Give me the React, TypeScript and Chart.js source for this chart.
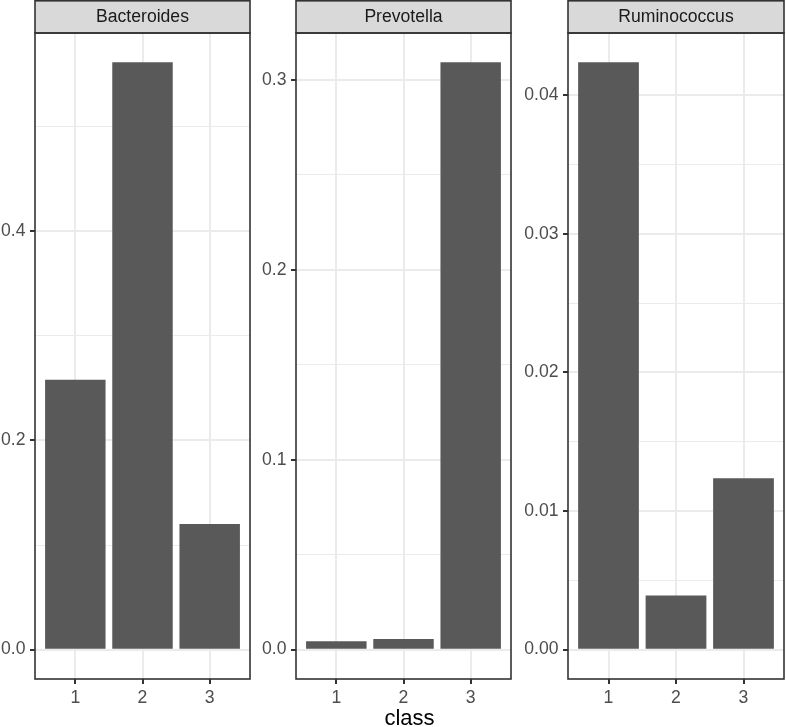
import React, { useEffect, useRef } from 'react';
import { Chart, registerables } from 'chart.js';

Chart.register(...registerables);

// ---- data ----
const facetNames = ['Bacteroides', 'Prevotella', 'Ruminococcus'];
const classes = [1, 2, 3];
const bacteroidesValues = [0.258, 0.5613, 0.12];
const prevotellaValues = [0.0044, 0.0056, 0.3093];
const ruminococcusValues = [0.04236, 0.00391, 0.01237];
const bacteroidesTicks = [0, 0.2, 0.4];
const prevotellaTicks = [0, 0.1, 0.2, 0.3];
const ruminococcusTicks = [0, 0.01, 0.02, 0.03, 0.04];
const tickDecimals = [1, 1, 2];
const xTitle = 'class';

const seriesValues = [bacteroidesValues, prevotellaValues, ruminococcusValues];
const seriesTicks = [bacteroidesTicks, prevotellaTicks, ruminococcusTicks];

// ---- layout ----
const W = 786;
const H = 727;
const PANELS = [
  { left: 35, right: 250, axisW: 35 },
  { left: 296, right: 511, axisW: 60 },
  { left: 568, right: 784, axisW: 60 },
];
const PLOT_TOP = 33;
const PLOT_BOTTOM = 679;
const FONT = '"Liberation Sans", Arial, Helvetica, sans-serif';

const near = (a: number, b: number) => Math.abs(a - b) < 1e-9;

function FacetCanvas({ idx }: { idx: number }) {
  const ref = useRef<HTMLCanvasElement | null>(null);
  useEffect(() => {
    if (!ref.current) return;
    const values = seriesValues[idx];
    const majors = seriesTicks[idx];
    const maxV = Math.max(...values);
    const yMin = -0.05 * maxV;
    const yMax = 1.05 * maxV;
    const step = majors[1] - majors[0];
    const allTicks: number[] = [];
    for (let v = majors[0] - step / 2; v <= yMax + 1e-12; v += step / 2) {
      if (v >= yMin - 1e-12) allTicks.push(Math.round(v * 1e6) / 1e6);
    }
    const isMajor = (v: number) => majors.some((m) => near(m, v));
    const panel = PANELS[idx];

    const facetPlugin = {
      id: 'facetDecor' + idx,
      afterDraw(chart: any) {
        const { ctx, chartArea } = chart;
        const { left, right, top, bottom } = chartArea;
        ctx.save();
        // strip
        ctx.fillStyle = '#D9D9D9';
        ctx.fillRect(left, 0, right - left, top);
        ctx.strokeStyle = '#333333';
        ctx.lineWidth = 1.6;
        ctx.strokeRect(left, 0.8, right - left, top - 0.8);
        ctx.fillStyle = '#1A1A1A';
        ctx.font = '17.6px ' + FONT;
        ctx.textAlign = 'center';
        ctx.textBaseline = 'middle';
        ctx.fillText(facetNames[idx], (left + right) / 2, top / 2 + 1);
        // panel border
        ctx.strokeStyle = '#333333';
        ctx.lineWidth = 1.6;
        ctx.strokeRect(left, top, right - left, bottom - top);
        if (idx === 0) {
          ctx.fillStyle = '#000000';
          ctx.font = '22px ' + FONT;
          ctx.textAlign = 'center';
          ctx.textBaseline = 'alphabetic';
          ctx.fillText(xTitle, (PANELS[0].left + PANELS[2].right) / 2, 725);
        }
        ctx.restore();
      },
    };

    const chart = new Chart(ref.current, {
      type: 'bar',
      data: {
        datasets: [
          {
            data: classes.map((c, i) => ({ x: c, y: values[i] })),
            backgroundColor: '#595959',
            borderWidth: 0,
            barPercentage: 0.9,
            categoryPercentage: 1,
          },
        ],
      },
      options: {
        responsive: false,
        animation: false,
        devicePixelRatio: 1,
        events: [],
        layout: {
          padding: {
            left: panel.left - panel.axisW,
            right: W - panel.right,
            top: PLOT_TOP,
            bottom: 0,
          },
        },
        plugins: {
          legend: { display: false },
          tooltip: { enabled: false },
          title: { display: false },
        },
        scales: {
          x: {
            type: 'linear',
            min: 0.4,
            max: 3.6,
            offset: false,
            afterBuildTicks: (s: any) => {
              s.ticks = classes.map((v) => ({ value: v }));
            },
            afterFit: (s: any) => {
              s.height = H - PLOT_BOTTOM;
            },
            ticks: {
              autoSkip: false,
              maxRotation: 0,
              padding: 4,
              color: '#4D4D4D',
              font: { family: FONT, size: 17.6 },
              callback: (v: any) => String(v),
            },
            grid: {
              offset: false,
              color: '#EBEBEB',
              lineWidth: 2,
              tickLength: 5,
              tickColor: '#333333',
              tickWidth: 2,
            },
            border: { display: false },
          },
          y: {
            type: 'linear',
            min: yMin,
            max: yMax,
            afterBuildTicks: (s: any) => {
              s.ticks = allTicks.map((v) => ({ value: v }));
            },
            afterFit: (s: any) => {
              s.width = panel.axisW;
            },
            ticks: {
              autoSkip: false,
              padding: 4.5,
              color: '#4D4D4D',
              font: { family: FONT, size: 17.6 },
              callback: (v: any) => (isMajor(Number(v)) ? Number(v).toFixed(tickDecimals[idx]) : ''),
            },
            grid: {
              color: '#EBEBEB',
              lineWidth: (ctx: any) => (ctx.tick && isMajor(ctx.tick.value) ? 2 : 1),
              tickLength: 5,
              tickWidth: 2,
              tickColor: (ctx: any) =>
                ctx.tick && isMajor(ctx.tick.value) ? '#333333' : 'rgba(0,0,0,0)',
            },
            border: { display: false },
          },
        },
      },
      plugins: [facetPlugin],
    } as any);
    return () => chart.destroy();
  }, [idx]);
  return (
    <canvas
      ref={ref}
      width={W}
      height={H}
      style={{ position: 'absolute', left: 0, top: 0, width: W, height: H }}
    />
  );
}

export default function App() {
  return (
    <div
      style={{
        position: 'fixed',
        left: 0,
        top: 0,
        width: W,
        height: H,
        background: '#FFFFFF',
        overflow: 'hidden',
      }}
    >
      {facetNames.map((_, i) => (
        <FacetCanvas key={i} idx={i} />
      ))}
    </div>
  );
}
